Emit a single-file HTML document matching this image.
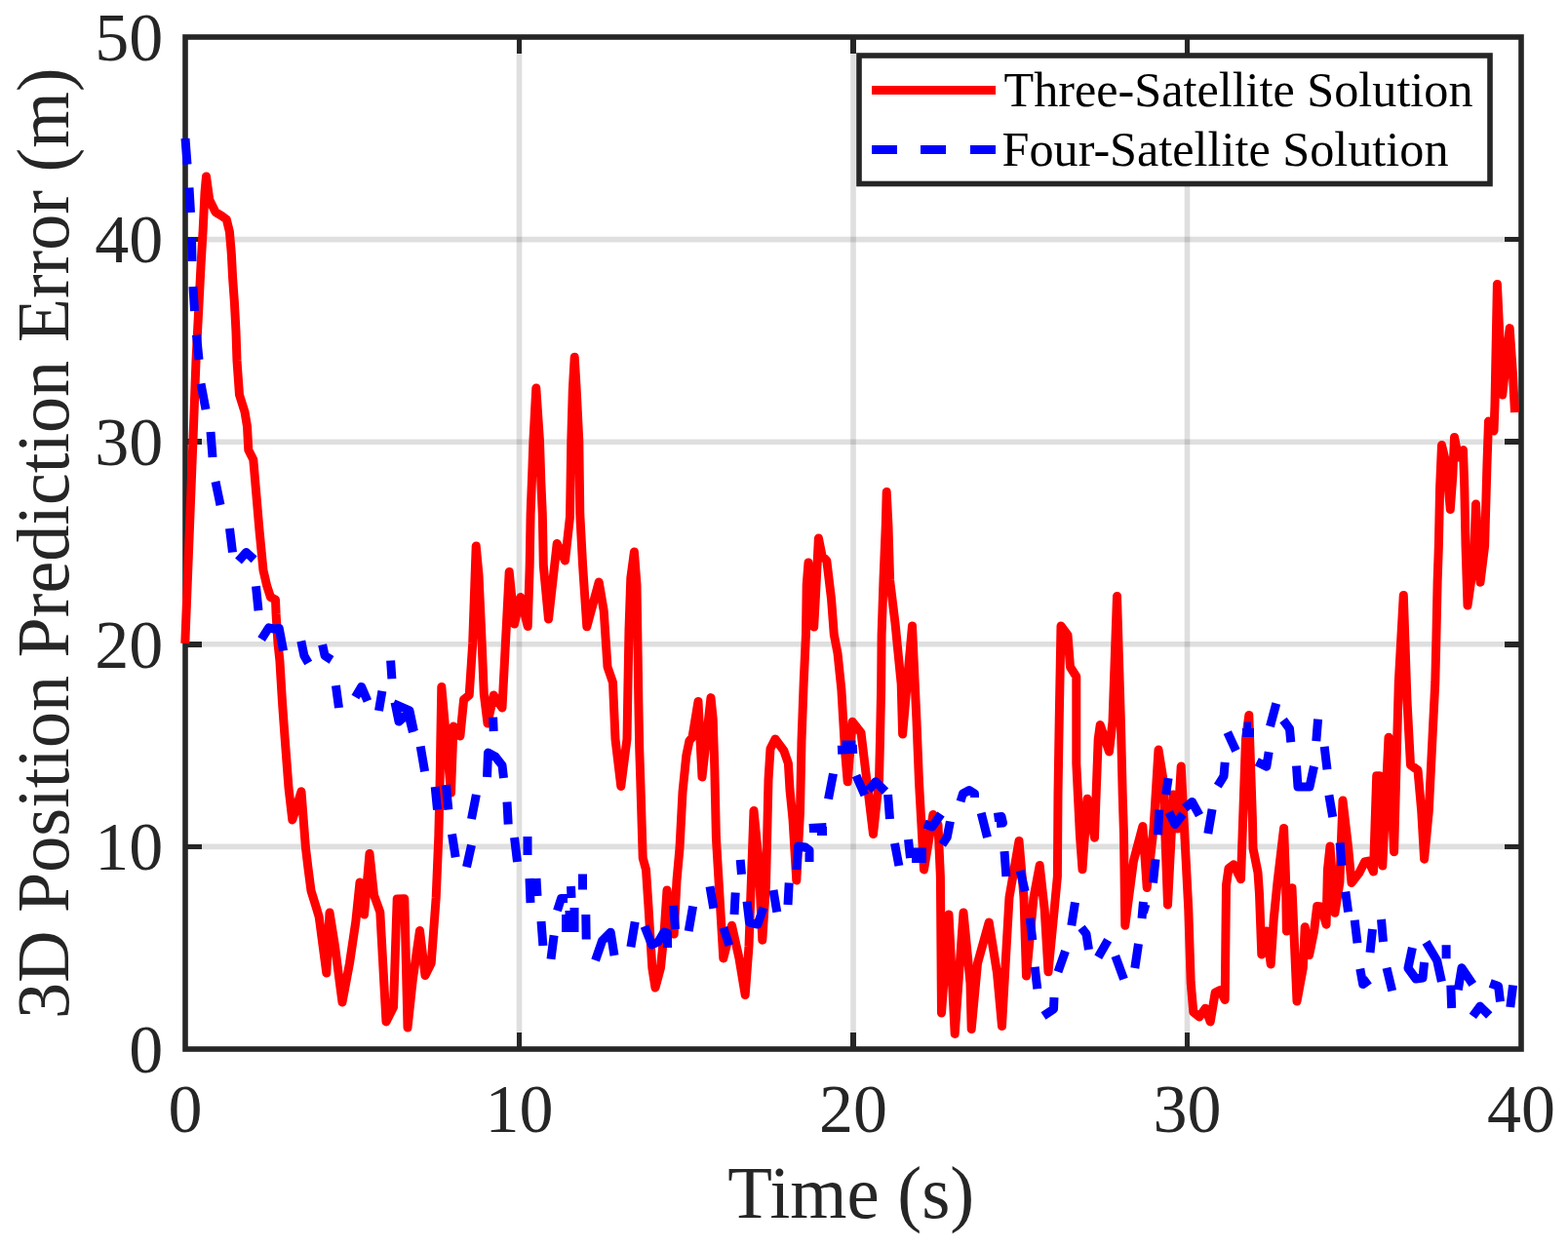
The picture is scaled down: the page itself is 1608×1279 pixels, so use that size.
<!DOCTYPE html>
<html><head><meta charset="utf-8"><title>3D Position Prediction Error</title>
<style>
html,body{margin:0;padding:0;background:#fff;}
svg{display:block;}
text{font-family:"Liberation Serif","Times New Roman",serif;}
</style></head><body>
<svg width="1608" height="1279" viewBox="0 0 1608 1279">
<rect width="1608" height="1279" fill="#fff"/>
<path d="M532.5 38V1076 M875 38V1076 M1217.5 38V1076" stroke="#262626" stroke-opacity="0.15" stroke-width="5.6" fill="none"/>
<path d="M190 868.4H1560 M190 660.8H1560 M190 453.2H1560 M190 245.6H1560" stroke="#262626" stroke-opacity="0.15" stroke-width="5.6" fill="none"/>
<path d="M532.5 1076v-17M532.5 38v17 M875 1076v-17M875 38v17 M1217.5 1076v-17M1217.5 38v17 M190 868.4h17M1560 868.4h-17 M190 660.8h17M1560 660.8h-17 M190 453.2h17M1560 453.2h-17 M190 245.6h17M1560 245.6h-17" stroke="#262626" stroke-width="5.6" fill="none" shape-rendering="crispEdges"/>
<rect x="190" y="38" width="1370" height="1038" stroke="#262626" stroke-width="5.6" fill="none"/>
<path d="M189.8 660 L198.5 437.5 L201 370 L204.1 310 L206 272.6 L208.2 235 L210 197.5 L211.5 181 L214.8 205 L221 217.6 L227.3 221.3 L232.3 225 L235.4 237.6 L237.3 260 L238.6 285 L240.4 310 L242 340 L243 370 L245.5 405 L251 422.5 L253.5 437.5 L254.8 461.5 L259.8 471.5 L266 544 L270 585 L273.8 601.2 L277.5 612.5 L282.5 615 L283.1 630 L285 660 L286.9 677.5 L288.1 697.5 L289.4 719 L292.2 758 L296 808 L299.8 841 L309 811.8 L313.4 869 L316.1 891.4 L319 913.6 L324.5 931.4 L327.2 940.5 L334.8 998 L338 936 L343.5 970.5 L351 1028 L358.5 988 L364.8 945.5 L369 905 L373.5 938 L379 875.5 L383.5 918 L389.8 935.5 L396 1048 L403.5 1033 L407.2 922 L414.8 921.8 L418 1054 L423.5 1003 L430.5 954.5 L436 1000.5 L442.2 988 L447.2 920.5 L449.8 858 L451 808 L452.8 704.4 L462.5 813 L465 745 L471.9 755 L475.6 717.5 L481.2 713 L484.7 660 L486.5 609 L488.2 560 L491 590 L494.2 660.5 L496.3 712 L500 742 L506.2 713 L515 726 L522.2 586.5 L527.5 640 L533.8 612.5 L541.2 642.5 L543.2 580 L544.1 527.6 L545.4 493.8 L546.9 452.6 L549.8 398 L553.5 452.6 L554.8 493.8 L556.3 527.6 L557.3 580 L562.5 635 L571.2 557.5 L579.5 575 L584.5 530 L585.8 452 L587.3 400 L589.2 366.2 L591.2 400 L593.8 452.6 L594.8 527.6 L597.6 580 L601.8 642.8 L614.2 597 L619.2 626.5 L623 684 L628.5 700 L631 758 L636.8 806.5 L643 758 L644 700 L645 646 L646.8 593 L650.4 566 L653 600 L654.3 682 L654.8 718 L655.7 767 L656.9 803.8 L659.2 880 L662.5 892 L665 930 L668.8 992.5 L672 1013 L677.5 992.5 L681.2 955 L684 913 L691.2 958 L694 903 L697 870 L700 812.5 L703.8 775 L706.9 760 L710 756 L716 719.4 L720 797 L729 715.6 L731.2 737.5 L732.8 787.5 L734.4 859 L741.8 983 L750.5 949.2 L758 983 L764.2 1020.5 L768 970.5 L773 831.5 L778 883 L781.8 964.2 L785.5 908 L788 800 L790 768 L795 758 L803.9 770 L808.4 783 L810 810 L813 840 L816.8 903 L820.5 833 L822 760 L824.2 700 L826.5 650 L827.2 600 L829 577 L832 605 L834.7 643 L836.5 610 L839.4 552 L843 570 L847.8 575 L852.5 614 L855.3 651 L859 670 L862.9 707.6 L865.1 745 L866.5 770 L869.2 801.8 L874.2 740.2 L883 751.5 L895.5 855.5 L901.5 800 L902.5 760 L903.6 707.6 L904.1 651.3 L906 595 L908.3 539 L909.2 504.5 L911 540 L912.6 595 L918 639 L924.2 701.5 L925.6 753 L935.5 642 L940 740 L942.5 802.5 L947.5 892 L956.9 835.4 L962 846 L964.4 899 L965.5 1039 L973 938 L979.2 1060.5 L988 936 L995 1008 L996.2 1055.5 L1002.5 988 L1014.2 946 L1022.5 998 L1027.5 1052.5 L1035 920.5 L1045 862.5 L1050 920.5 L1052.5 1001 L1060 920.5 L1066.2 887.5 L1071.2 933 L1075 996.8 L1081.2 933 L1084.4 899 L1085 815 L1086.2 740 L1088 642 L1095 651.5 L1097.5 684 L1103.8 694 L1103.8 783 L1107.5 858 L1110 891.8 L1115 819.2 L1122.5 859.2 L1126.2 758 L1128.2 743.5 L1137.5 771 L1141 740 L1145.5 611.5 L1149.4 740 L1151.2 815 L1152.5 856 L1153.8 949.2 L1162.5 883 L1171.9 847.5 L1176.2 910.5 L1183 850 L1188 769 L1193 800 L1195 860 L1197.5 928 L1201 860 L1203 815 L1207.5 850 L1211.2 786 L1215 860 L1218.8 933 L1221.2 1008 L1223.8 1038 L1230 1043 L1236.2 1034.2 L1241.2 1048 L1246.2 1018 L1251.2 1015.5 L1256.2 1025.5 L1257.5 908 L1260 890.5 L1265 886.8 L1272.5 901.8 L1277.5 758 L1280.8 733.5 L1284.4 840 L1285 870 L1290 895 L1291.5 917 L1293.8 979 L1298.8 955 L1303.2 989 L1306.3 942 L1310 905 L1316.6 849.4 L1318.5 900 L1319.4 955 L1325 910.7 L1330 1027 L1336.3 992.6 L1338.2 950.7 L1342.6 979.5 L1347.6 955 L1350.7 929.4 L1355 930 L1360.1 948.2 L1361.4 892.5 L1364 868 L1368.9 936.3 L1373.9 905 L1377 821 L1382.6 869 L1386 905.5 L1393.9 895.3 L1399.5 884 L1403.3 883.1 L1408.5 894 L1411.7 795.8 L1414.6 795.8 L1417.8 888 L1424 756.3 L1429.6 873.7 L1434.3 700 L1439.3 610.4 L1443 719 L1446.5 784.5 L1454 790 L1457.7 831.5 L1460.6 881.2 L1465.3 831.5 L1469 756.3 L1471.8 700 L1472.8 659.5 L1474.1 597.3 L1475.4 559 L1476.6 500.5 L1478.5 456.5 L1483 475 L1487.3 522.5 L1489.8 488 L1491.5 448.4 L1495.5 469 L1500.5 461.6 L1501.8 500.5 L1503 559 L1505 621 L1511.4 576 L1513.5 517 L1518 597.3 L1522.6 560 L1525 475 L1526.5 432 L1532 442 L1533 415 L1535.4 291.4 L1540.7 405 L1548.2 336.6 L1551.5 385 L1552.5 405 L1553.5 423" stroke="#ff0000" stroke-width="9" fill="none" stroke-linejoin="round" stroke-linecap="butt"/>
<path d="M190 142 L192 168.7 M194 192.5 L195.5 218 M196.5 244 L197 268 M198 294 L199.5 319 M201.5 343.5 L204 369 M206 393.5 L211 420 M216 443 L218 469 M221 494 L226 518 M235.5 542 L238.5 566.5 M244.5 575.5 L252.5 566.5 L260.6 573.8 M262.5 601.2 L265 626.2 M268.1 655.6 L275.6 643.8 L281.2 645 L286.2 644.4 L290.6 667.5 M308.8 657.5 L311.9 672.5 L316.2 680 M330.6 661.2 L333.1 672.5 L340 676.9 M400.6 677.5 L401.9 696.2 M344.4 703.1 L347.5 726 M364.4 715 L370.6 704.4 L376.9 719 M391.9 708.8 L388.5 729 M403.5 721.5 L420 728.8 L424.4 750 M431.2 765.6 L435.6 791.2 M405 720.3 L409 740 L417 733 M418 729 L423.4 750.8 M446.2 807 L448.5 830.5 M457.5 805 L459.8 830.5 M488.4 815 L483.5 840 M499.5 797 L500.5 772 L508 776 L515 785 L516.5 798 M505.6 735.6 L506.2 750 M520 822.5 L521.2 845.5 M463.5 855.5 L467.2 879.2 M483.5 866.8 L478.5 889.2 M527.5 859 L530.5 884 M541 858 L541 877 M543 901 L544 926 M550 901 L551 919 M555 945 L556.9 970 M568.1 959.4 L565 983.8 M597.5 896.5 L597.5 912.5 M585.5 909 L586 921 M571.5 934 L575.5 921.5 L582 921.5 M580.5 938 L580.5 956 M589 931 L589 956 M584 934 L584 950 M600.8 938 L601.2 963.5 M610.6 985 L617.5 965 L626.2 956.2 L630 980 M651.2 945.6 L646.9 971.2 M661 950 L668.5 969 L675 966 L681 956 L684.5 957 L684.5 972 M690.6 928.8 L692.5 953.1 M710.6 929.4 L706.2 955 M728 909.2 L731.8 931.8 M741.8 951.4 L747.9 969.7 M754.2 915.5 L753 938 M759.2 881.8 L760.5 896.8 M766 924.5 L768.5 946 L777 948 L783 931 M793 913 L796.8 935.5 M809.2 905.5 L808 928 M816.8 892 L818.5 868 L826 869 L830 872 L830 884 M829.8 849.5 L847.5 848.5 M838 852.5 L848 852.5 M854.5 793.5 L849.5 819.5 M863.5 764 L877.5 764 M859 769.3 L879 768.3 M878 795.5 L886.8 815.5 M890.5 810.5 L898 801.8 L908 811.8 M910.6 815 L912.5 840 M917.5 865 L921.9 888 M931.5 861 L933.5 880 M935 874 L950 874 M935 880.5 L950 880.5 M948 845 L956 848 L965 835 M974.4 842.5 L971.2 858.8 L966.2 866.2 M985 822 L987.5 814 L994 810.5 L999.5 814 L999.5 818 M1006.2 833.8 L1012.5 858.8 M1019.5 838.5 L1027 837.5 L1028.5 844 L1022 844.5 M1030 873.1 L1031.9 899 M1046.2 893 L1051.2 914.2 M1056.2 941.8 L1058.8 964.2 M1061.2 991.8 L1063.8 1014.2 M1081 1023 L1080.5 1035 L1070 1042 M1092.5 975.5 L1085 996.8 M1102.5 925.5 L1098.8 949.2 M1109 951.5 L1114 958 L1116.5 974 M1136.2 964.2 L1126.2 981.8 M1143.8 980.5 L1152.5 1004.2 M1167.5 968 L1163.8 993 M1172.5 925 L1171 942 M1171 931 L1178 933 M1185 881.2 L1182.5 905.5 M1188.8 830.6 L1187.5 856.2 M1198.1 798.1 L1195.6 815 M1198.8 833.1 L1205 845.6 L1213.1 835 M1215 828.8 L1222.5 822.5 L1230 836.2 M1243.1 830 L1238.8 855 M1256.2 781.9 L1255 796.2 L1248.8 806.2 M1258.8 751.2 L1267.5 770 M1274 751.5 L1286 751.5 M1276 745 L1283 745 M1301.2 771.2 L1298.8 786.2 L1288.8 781.2 M1308.8 721.5 L1302.5 745 M1316 738.5 L1322.5 747.5 L1323.8 761.2 M1351.6 737.6 L1349.8 760.1 M1329.5 785.5 L1331 807 L1343 807 L1347.5 786 M1358.2 765.7 L1361 789.2 M1362.9 815.5 L1366.7 838 M1374.2 864.3 L1376 887.8 M1379.8 914.7 L1382.6 935.4 M1389.2 943.8 L1392 967.3 M1405 977 L1407.5 953 M1416.5 943 L1418.5 966 M1394.8 993.6 L1397.7 1009.6 L1404.2 1004.9 M1422 992.7 L1427.7 1016.2 M1448.4 972 L1444 993 L1452 1004 L1459 1003 L1460.6 987 M1462.4 966.4 L1473.7 985.2 L1478.4 1006.8 M1483.1 969.2 L1483.1 983.3 M1487.8 1010.5 L1488.7 1034 M1495.3 1015.2 L1499 992.7 L1510.3 1009.6 M1510.3 1042.4 L1517.8 1032.1 L1527.2 1041.5 M1528.2 1008.6 L1536.6 1011.5 L1538.5 1027.4 M1551.6 1010.5 L1548.8 1033" stroke="#0000ff" stroke-width="9" fill="none" stroke-linejoin="round" stroke-linecap="butt"/>
<g font-size="70" fill="#262626" text-anchor="middle"><text x="190" y="1161.2">0</text><text x="532.5" y="1161.2">10</text><text x="875" y="1161.2">20</text><text x="1217.5" y="1161.2">30</text><text x="1560" y="1161.2">40</text></g>
<g font-size="70" fill="#262626" text-anchor="end"><text x="167.3" y="1099.7">0</text><text x="167.3" y="892.1">10</text><text x="167.3" y="684.5">20</text><text x="167.3" y="476.9">30</text><text x="167.3" y="269.3">40</text><text x="167.3" y="61.7">50</text></g>
<text x="746.3" y="1249" font-size="76" fill="#262626" textLength="253" lengthAdjust="spacingAndGlyphs">Time (s)</text>
<text transform="translate(69.9 1045) rotate(-90)" font-size="76" fill="#262626" textLength="975.5" lengthAdjust="spacingAndGlyphs">3D Position Prediction Error (m)</text>
<rect x="881" y="57" width="647" height="131.5" fill="#fff" stroke="#262626" stroke-width="5.6"/>
<path d="M894 92.4H1021" stroke="#ff0000" stroke-width="9"/>
<path d="M894 153.4H920M944 153.4H970M995 153.4H1021" stroke="#0000ff" stroke-width="9"/>
<text x="1029.5" y="109" font-size="50.5" fill="#000" textLength="481" lengthAdjust="spacingAndGlyphs">Three-Satellite Solution</text>
<text x="1027.5" y="169.8" font-size="50.5" fill="#000" textLength="458" lengthAdjust="spacingAndGlyphs">Four-Satellite Solution</text>
</svg>
</body></html>
